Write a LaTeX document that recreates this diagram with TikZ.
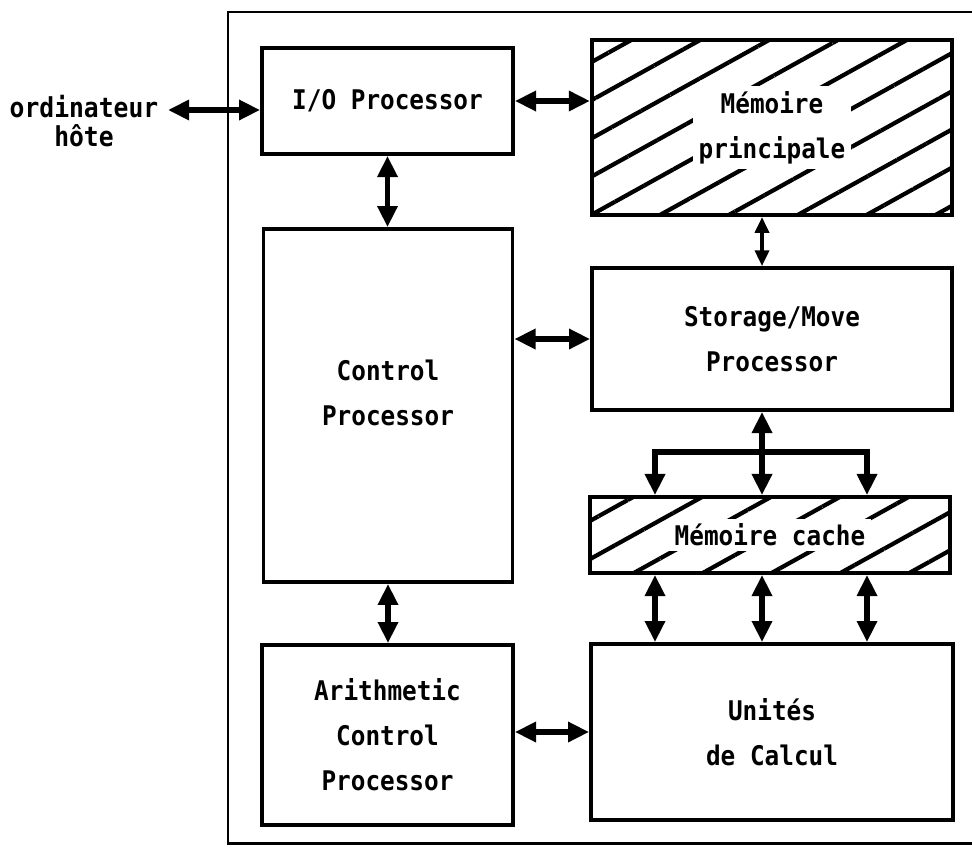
\documentclass[tikz,border=0pt]{standalone}
\usepackage{fontspec}
\usepackage{tikz}
\usetikzlibrary{arrows.meta, positioning, patterns.meta}
\newfontfamily\lpfont[FakeStretch=0.9]{DejaVu Sans Mono}

\tikzset{
	unitbox/.style={draw, line width=2.2pt, align=center, inner sep=0pt,
		font=\lpfont\bfseries\fontsize{15.4}{25.6}\selectfont},
	hatched/.style={unitbox, pattern={Lines[angle=29, distance=19pt, line width=2.4pt]}},
	boxtext/.style={fill=white, inner sep=3pt, align=center,
		font=\lpfont\bfseries\fontsize{15.4}{25.6}\selectfont},
	bigarrow/.style={line width=3.4pt, {Triangle[length=12pt, width=11pt]}-{Triangle[length=12pt, width=11pt]}},
	thinarrow/.style={line width=2pt, {Triangle[length=9pt, width=8pt]}-{Triangle[length=9pt, width=8pt]}},
	busline/.style={line width=3.4pt, line join=miter, -{Triangle[length=12pt, width=11pt]}},
	frame/.style={line width=1.7pt}
}

\begin{document}
\begin{tikzpicture}[x=0.02cm, y=-0.02cm]
	\useasboundingbox (0,0) rectangle (972,848);
	% Paths, nodes and wires:
	\draw[frame] (972,12) -- (228,12) -- (228,843) -- (972,843);
	\node[unitbox, minimum width=5.02cm, minimum height=2.12cm] (io) at (387.5,101) {I/O Processor};
	\node[hatched, minimum width=7.2cm, minimum height=3.5cm] (memp) at (772,127.5) {};
	\node[boxtext] (mempText) at (memp) {Mémoire\\principale};
	\node[unitbox, minimum width=4.98cm, minimum height=7.06cm, text depth=0.5cm] (control) at (388,405.5) {Control\\Processor};
	\node[unitbox, minimum width=7.2cm, minimum height=2.84cm] (storage) at (772,339) {Storage/Move\\Processor};
	\node[hatched, minimum width=7.2cm, minimum height=1.52cm] (cache) at (770,535) {};
	\node[boxtext] (cacheText) at (cache) {Mémoire cache};
	\node[unitbox, minimum width=7.24cm, minimum height=3.52cm] (units) at (772,732) {Unités\\de Calcul};
	\node[unitbox, minimum width=5.02cm, minimum height=3.6cm] (arith) at (387.5,735) {Arithmetic\\Control\\Processor};
	\node[align=center, inner sep=0pt, font=\lpfont\bfseries\fontsize{15.6}{17}\selectfont] (host) at (84,121) {ordinateur\\hôte};
	\coordinate (hostport) at (168,110);
	\coordinate (busL) at (655,452);
	\coordinate (busM) at (762,452);
	\coordinate (busR) at (867,452);
	\draw[bigarrow] (hostport) -- (hostport -| io.west);
	\draw[bigarrow] (io.east) -- (io.east -| memp.west);
	\draw[bigarrow] (io.south) -- (io.south |- control.north);
	\draw[bigarrow] (control.east |- storage.west) -- (storage.west);
	\draw[bigarrow] (control.south) -- (control.south |- arith.north);
	\draw[bigarrow] (arith.east |- units.west) -- (units.west);
	\draw[thinarrow] (busM |- memp.south) -- (busM |- storage.north);
	\draw[bigarrow] (busM |- storage.south) -- (busM |- cache.north);
	\draw[busline] (busM) -- (busL) -- (busL |- cache.north);
	\draw[busline] (busM) -- (busR) -- (busR |- cache.north);
	\foreach \bx in {busL, busM, busR}
		\draw[bigarrow] (\bx |- cache.south) -- (\bx |- units.north);
\end{tikzpicture}
\end{document}
